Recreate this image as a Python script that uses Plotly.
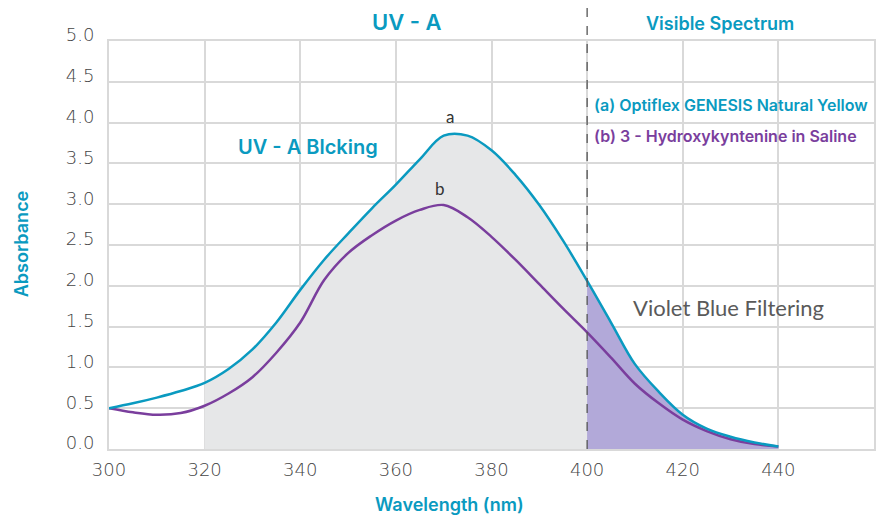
import plotly.graph_objects as go

wavelength = [300, 305, 310, 315, 320, 325, 330, 335, 340, 345, 350, 355, 360, 365, 370,
              375, 380, 385, 390, 395, 400, 405, 410, 415, 420, 425, 430, 435, 440]
absorb_a = [0.50, 0.56, 0.63, 0.71, 0.81, 0.98, 1.22, 1.55, 1.95, 2.32, 2.64, 2.95, 3.24, 3.55, 3.84,
            3.84, 3.66, 3.36, 2.99, 2.55, 2.06, 1.55, 1.04, 0.70, 0.42, 0.25, 0.15, 0.08, 0.03]
absorb_b = [0.50, 0.45, 0.42, 0.44, 0.53, 0.68, 0.88, 1.18, 1.55, 2.07, 2.40, 2.62, 2.80, 2.93, 2.99,
            2.84, 2.60, 2.32, 2.02, 1.72, 1.43, 1.12, 0.80, 0.56, 0.36, 0.22, 0.12, 0.06, 0.03]
x_ticks = [300, 320, 340, 360, 380, 400, 420, 440]
y_ticks = [0.0, 0.5, 1.0, 1.5, 2.0, 2.5, 3.0, 3.5, 4.0, 4.5, 5.0]
uv_start, visible_start, end_nm = 320, 400, 440

TEAL = "#0A9AC0"
PURPLE = "#7A3E9D"
GRID = "#D9D9D9"
FONT = "Inter"

def seg(lo, hi):
    xs = [w for w in wavelength if lo <= w <= hi]
    ys = [a for w, a in zip(wavelength, absorb_a) if lo <= w <= hi]
    return xs, ys

fig = go.Figure()
gx, gy = seg(uv_start, visible_start)
fig.add_trace(go.Scatter(x=gx, y=gy, fill="tozeroy", fillcolor="#E6E7E8",
                         mode="lines", line=dict(width=0, shape="spline"), hoverinfo="skip"))
px_, py_ = seg(visible_start, end_nm)
fig.add_trace(go.Scatter(x=px_, y=py_, fill="tozeroy", fillcolor="#B2A9D9",
                         mode="lines", line=dict(width=0, shape="spline"), hoverinfo="skip"))
fig.add_trace(go.Scatter(x=wavelength, y=absorb_b, mode="lines",
                         line=dict(color=PURPLE, width=2.5, shape="spline")))
fig.add_trace(go.Scatter(x=wavelength, y=absorb_a, mode="lines",
                         line=dict(color=TEAL, width=2.5, shape="spline")))

fig.add_shape(type="line", xref="x", yref="paper", x0=visible_start, x1=visible_start,
              y0=0, y1=1.1, line=dict(color="#555555", width=1.3, dash="dash"))

def ann(text, x, y, size, color, weight=400, xanchor="center", angle=0, family=FONT, ref="data"):
    r = ("x", "y") if ref == "data" else ("paper", "paper")
    fig.add_annotation(text=text, x=x, y=y, xref=r[0], yref=r[1], showarrow=False,
                       xanchor=xanchor, yanchor="middle", textangle=angle,
                       font=dict(size=size, color=color, family=family, weight=weight))

ann("UV - A", 0.390, 1.047, 22, TEAL, weight=600, ref="paper")
ann("Visible Spectrum", 0.799, 1.042, 18, TEAL, weight=600, ref="paper")
ann("(a) Optiflex GENESIS Natural Yellow", 401.0, 4.22, 16, TEAL, weight=600, xanchor="left")
ann("(b) 3 - Hydroxykyntenine in Saline", 401.0, 3.84, 16, PURPLE, weight=600, xanchor="left")
ann("UV - A Blcking", 341.7, 3.70, 20, TEAL, weight=600)
ann("a", 371.3, 4.08, 17, "#333333", family="Lato")
ann("b", 369.3, 3.19, 17, "#333333", family="Lato")
ann("Violet Blue Filtering", 429.5, 1.73, 22, "#5A5A5A", family="Lato")
ann("Wavelength (nm)", 0.4446, -0.137, 18, TEAL, weight=600, ref="paper")
ann("Absorbance", -0.1134, 0.5025, 18, TEAL, weight=600, angle=-90, ref="paper")

fig.update_layout(
    width=886, height=515, margin=dict(l=109, r=10, t=41, b=66),
    plot_bgcolor="white", paper_bgcolor="white", showlegend=False,
    font=dict(family=FONT, color="#444444", size=16),
)
tickfont = dict(size=18, color="#444444", family="DejaVu Sans", weight=200)
fig.update_xaxes(range=[300, 460], tickvals=x_ticks, showgrid=True, gridcolor=GRID, gridwidth=2,
                 showline=True, linecolor=GRID, linewidth=2, mirror=True, zeroline=False,
                 ticks="", ticklabelstandoff=3, tickfont=tickfont)
fig.update_yaxes(range=[0, 5], tickvals=y_ticks, tickformat=".1f", showgrid=True, gridcolor=GRID,
                 gridwidth=2, showline=True, linecolor=GRID, linewidth=2, mirror=True, zeroline=False,
                 ticks="", ticklabelstandoff=9, ticklabelshift=-6, tickfont=tickfont)

fig.write_html("out.html", config={"displayModeBar": False},
               post_script="document.body.style.margin='0';")
